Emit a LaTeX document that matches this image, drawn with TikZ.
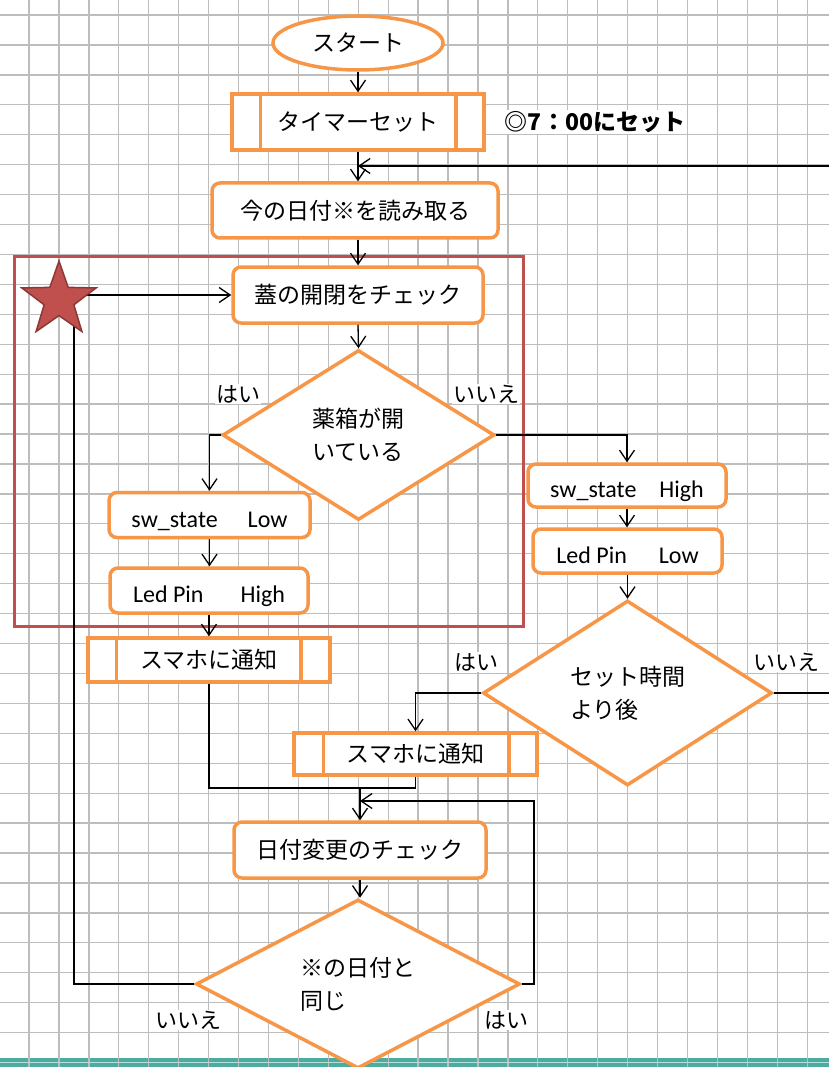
\documentclass[tikz,border=0pt]{standalone}
\usepackage{fontspec}
\setmainfont{Carlito}
\newfontfamily\jp{Noto Sans CJK JP}
\newfontfamily\lat{Carlito}
\usetikzlibrary{shapes.geometric,arrows.meta,calc}
\definecolor{orC}{HTML}{F79646}
\definecolor{redC}{HTML}{C0504D}
\definecolor{starB}{HTML}{8C3836}
\definecolor{gridC}{HTML}{BDBDBD}
\definecolor{tealC}{HTML}{4BACA0}
\begin{document}
\begin{tikzpicture}[x=1pt,y=-1pt,
 jpf/.style={font=\jp\fontsize{23}{33}\selectfont},
 latf/.style={font=\lat\fontsize{24}{28}\selectfont, text height=24pt, text depth=0pt},
 box/.style={draw=orC, line width=3.5pt, fill=white, inner sep=0pt, rounded corners=8pt},
 pbox/.style={draw=orC, line width=3.5pt, fill=white, inner sep=0pt},
 dec/.style={diamond, draw=orC, line width=3.5pt, fill=white, inner sep=0pt, align=left},
 conn/.style={draw=black, line width=1.3pt},
 arr/.style={conn, -{Straight Barb[length=11pt,width=15pt,line width=1.3pt]}},
 lbl/.style={fill=white, inner sep=1pt, font=\jp\fontsize{22}{26}\selectfont},
 inner/.style={draw=orC, line width=3.5pt}
]
\useasboundingbox (0,0) rectangle (829,1067);
\fill[white] (0,0) rectangle (829,1067);
\fill[tealC] (0,1058) rectangle (829,1067);
\foreach \i in {0,...,26} \draw[gridC, line width=1.3pt] ({29+29.93*\i},0) -- ({29+29.93*\i},1067);
\foreach \i in {0,...,34} \draw[gridC, line width=1.3pt] (0,{15+29.93*\i}) -- (829,{15+29.93*\i});
\draw[white!60!tealC, line width=1pt] (0,1062.5) -- (829,1062.5);

% red frame
\draw[redC, line width=3pt] (14,256) rectangle (523,626);

% nodes
\node[ellipse, draw=orC, line width=3.5pt, fill=white, minimum width=170pt, minimum height=54pt, inner sep=0pt, jpf] (start) at (358,43) {スタート};
\node[pbox, minimum width=252pt, minimum height=56pt, jpf] (timer) at (358,122) {タイマーセット};
\draw[inner] ([xshift=30pt]timer.north west) -- ([xshift=30pt]timer.south west);
\draw[inner] ([xshift=-30pt]timer.north east) -- ([xshift=-30pt]timer.south east);
\node[box, minimum width=286pt, minimum height=55pt, jpf] (now) at (355,210.5) {今の日付※を読み取る};
\node[box, minimum width=250pt, minimum height=56pt, jpf] (lid) at (358,295) {蓋の開閉をチェック};
\node[dec, minimum width=272pt, minimum height=170pt, jpf] (d1) at (358.5,435) {薬箱が開\\いている};
\node[box, minimum width=201pt, minimum height=45pt, latf] (swlow) at (209.5,515) {sw\_state\hspace{30pt}Low};
\node[box, minimum width=198pt, minimum height=45pt, latf] (ledhigh) at (209,590.5) {Led Pin\hspace{37pt}High};
\node[pbox, minimum width=242pt, minimum height=44pt, jpf] (notify1) at (209,660) {スマホに通知};
\draw[inner] ([xshift=30pt]notify1.north west) -- ([xshift=30pt]notify1.south west);
\draw[inner] ([xshift=-31pt]notify1.north east) -- ([xshift=-31pt]notify1.south east);
\node[box, minimum width=198pt, minimum height=43pt, latf] (swhigh) at (627,485.5) {sw\_state\hspace{23pt}High};
\node[box, minimum width=189pt, minimum height=44pt, latf] (ledlow) at (627.5,551) {Led Pin\hspace{32pt}Low};
\node[dec, minimum width=289pt, minimum height=185pt, jpf] (d2) at (627.5,693) {セット時間\\より後};
\node[pbox, minimum width=243pt, minimum height=42pt, jpf] (notify2) at (415.5,754) {スマホに通知};
\draw[inner] ([xshift=31pt]notify2.north west) -- ([xshift=31pt]notify2.south west);
\draw[inner] ([xshift=-30pt]notify2.north east) -- ([xshift=-30pt]notify2.south east);
\node[box, minimum width=252pt, minimum height=56pt, jpf] (datechk) at (360,850) {日付変更のチェック};
\node[dec, minimum width=324pt, minimum height=164pt, jpf] (d3) at (358,984) {※の日付と\\同じ};

% coordinates
\coordinate (re1) at (829,166);
\coordinate (ex2) at (829,693);
\coordinate (mg) at (360,788);
\coordinate (rb) at (534,801);
\coordinate (rtip) at (360,801);
\coordinate (lb) at (74,984);

% connectors
\draw[arr] (start.south) -- (timer.north);
\draw[arr] (timer.south) -- (timer.south |- now.north);
\draw[arr] (re1) -- (timer.south |- re1);
\draw[arr] (lid.north |- now.south) -- (lid.north);
\draw[arr] (lid.south) -- (d1.north);
\draw[arr] (d1.west) -| (swlow.north);
\draw[arr] (swlow.south) -- (swlow.south |- ledhigh.north);
\draw[arr] (ledhigh.south) -- (ledhigh.south |- notify1.north);
\draw[arr] (d1.east) -| (swhigh.north);
\draw[arr] (swhigh.south) -- (swhigh.south |- ledlow.north);
\draw[arr] (ledlow.south) -- (ledlow.south |- d2.north);
\draw[arr] (d2.west) -| (notify2.north);
\draw[conn] (d2.east) -- (ex2);
\draw[conn] (notify1.south) |- (mg) -| (notify2.south);
\draw[arr] (mg) -- (mg |- datechk.north);
\draw[arr] (datechk.south) -- (datechk.south |- d3.north);
\draw[arr] (d3.east) -| (rb) -- (rtip);
\draw[arr] (d3.west) -- (lb) |- (lid.west);

% star
\node[star, star points=5, star point ratio=2.5, minimum size=78pt, inner sep=0pt, fill=redC, draw=starB, line width=1.5pt] (star) at (59,300) {};

% labels
\node[lbl] (y1) at (238,394) {はい};
\node[lbl] (n1) at (486,394) {いいえ};
\node[lbl] (y2) at (476,662) {はい};
\node[lbl] (n2) at (786,662) {いいえ};
\node[lbl] (n3) at (188,1020) {いいえ};
\node[lbl] (y3) at (506,1020) {はい};
\node[fill=white, inner sep=1pt, font=\jp\bfseries\fontsize{23}{26}\selectfont] (note) at (595,122) {◎7：00にセット};
\end{tikzpicture}
\end{document}
